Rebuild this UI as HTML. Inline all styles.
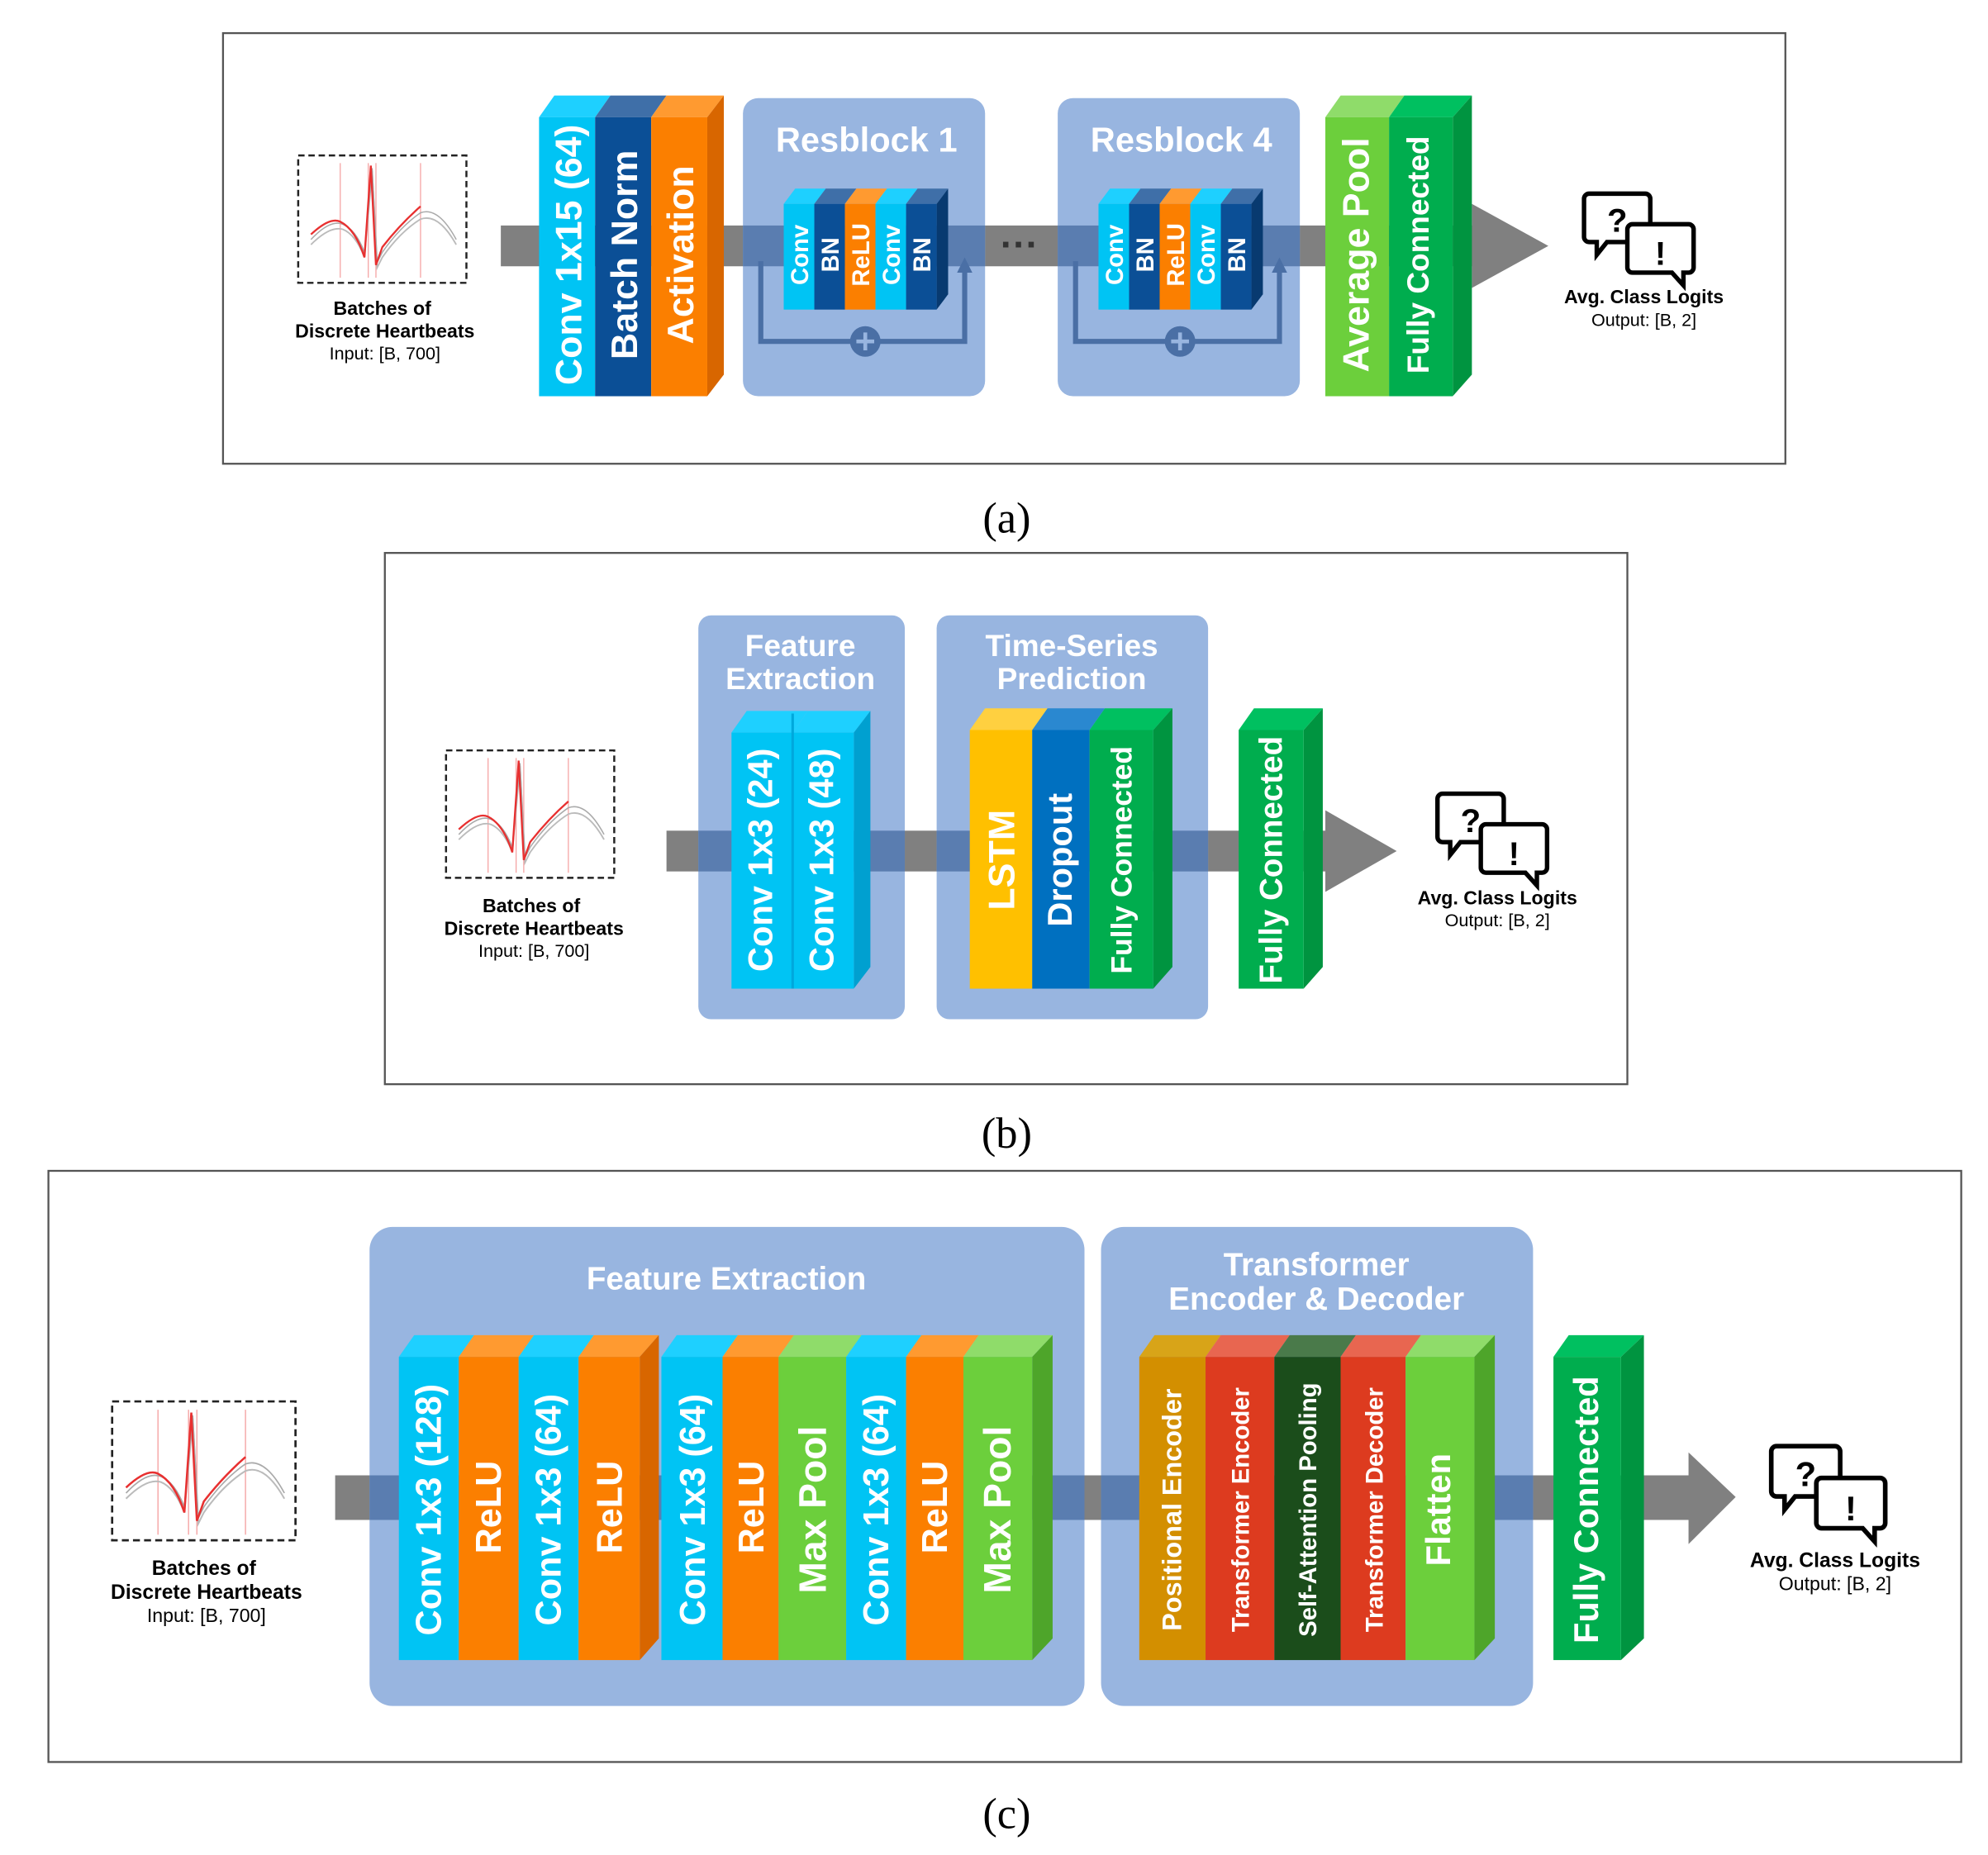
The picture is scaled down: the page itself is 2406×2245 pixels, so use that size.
<!DOCTYPE html>
<html><head><meta charset="utf-8"><style>
html,body{margin:0;padding:0;background:#fff}
svg{display:block}
text{font-family:"Liberation Sans",sans-serif}
.w{fill:#fff;font-weight:bold}
.k{fill:#000}
</style></head><body>
<svg width="2406" height="2245" viewBox="0 0 1560 1456" preserveAspectRatio="none" xmlns="http://www.w3.org/2000/svg">
<defs>
<g id="ecg">
<rect x="0" y="0" width="132" height="100" fill="#fff" stroke="#222" stroke-width="1.6" stroke-dasharray="5,3"/>
<g stroke="#f4a0a0" stroke-width="0.8"><line x1="33" y1="6" x2="33" y2="96"/><line x1="55" y1="6" x2="55" y2="96"/><line x1="61" y1="6" x2="61" y2="96"/><line x1="96" y1="6" x2="96" y2="96"/></g>
<path d="M10 70 Q25 55 35 58 Q45 62 52 80 L58 12 L62 88 L66 80 Q80 60 96 50 Q110 45 124 70" fill="none" stroke="#bbb" stroke-width="1.2"/>
<path d="M10 66 Q25 50 35 54 Q45 58 52 76 L58 10 L62 84 L66 76 Q80 56 96 45 Q110 40 124 66" fill="none" stroke="#aaa" stroke-width="1"/>
<path d="M10 62 Q25 48 33 52 Q45 58 52 80 L57 8 L61 86 L66 72 Q80 54 96 40" fill="none" stroke="#e83030" stroke-width="1.5"/>
</g>
<g id="bub">
<path d="M2 2 h44 a4 4 0 0 1 4 4 v30 a4 4 0 0 1 -4 4 h-30 l-8 10 v-10 h-6 a4 4 0 0 1 -4 -4 v-30 a4 4 0 0 1 4 -4z" fill="#fff" stroke="#000" stroke-width="3.5"/>
<text x="24" y="32" font-size="26" font-weight="bold" class="k" text-anchor="middle">?</text>
<path d="M36 26 h44 a4 4 0 0 1 4 4 v30 a4 4 0 0 1 -4 4 h-4 v10 l-9 -10 h-31 a4 4 0 0 1 -4 -4 v-30 a4 4 0 0 1 4 -4z" fill="#fff" stroke="#000" stroke-width="3.5"/>
<text x="58" y="58" font-size="26" font-weight="bold" class="k" text-anchor="middle">!</text>
</g>
</defs>

<!-- ================= (a) ================= -->
<rect x="175" y="26" width="1226" height="338" fill="#fff" stroke="#555" stroke-width="1.5"/>
<use href="#ecg" transform="translate(234,122)"/>
<text x="300" y="247" font-size="15" font-weight="bold" text-anchor="middle">Batches of</text>
<text x="302" y="265" font-size="15" font-weight="bold" text-anchor="middle">Discrete Heartbeats</text>
<text x="302" y="282" font-size="14" text-anchor="middle">Input: [B, 700]</text>
<rect x="393" y="177" width="770" height="32" fill="#808080"/>
<polygon points="1155,160 1215,193 1155,226" fill="#808080"/>
<rect x="583" y="77" width="190" height="234" rx="12" fill="#98b5e0"/>
<rect x="830" y="77" width="190" height="234" rx="12" fill="#98b5e0"/>
<rect x="583" y="177" width="190" height="32" fill="#5a7db0"/>
<rect x="830" y="177" width="190" height="32" fill="#5a7db0"/>
<text x="680" y="119" font-size="27" class="w" text-anchor="middle" font-weight="bold">Resblock 1</text>
<text x="927" y="119" font-size="27" class="w" text-anchor="middle">Resblock 4</text>
<text x="800" y="202" font-size="30" font-weight="bold" fill="#333" text-anchor="middle">···</text>
<!-- main blocks a -->
<polygon points="423,92 435,75 479,75 467,92" fill="#1ed0ff"/>
<polygon points="467,92 479,75 523,75 511,92" fill="#3f6fa8"/>
<polygon points="511,92 523,75 568,75 555,92" fill="#ff9a30"/>
<polygon points="555,92 568,75 568,294 555,311" fill="#d86600"/>
<rect x="423" y="92" width="44" height="219" fill="#00c4f4"/>
<rect x="467" y="92" width="44" height="219" fill="#0b4f96"/>
<rect x="511" y="92" width="44" height="219" fill="#fb7f00"/>
<text transform="translate(456,200) rotate(-90)" font-size="29" class="w" text-anchor="middle">Conv 1x15 (64)</text>
<text transform="translate(500,200) rotate(-90)" font-size="29" class="w" text-anchor="middle">Batch Norm</text>
<text transform="translate(544,200) rotate(-90)" font-size="29" class="w" text-anchor="middle">Activation</text>
<!-- res inner -->
<g id="res1">
<path d="M597 205 V268 H757 V212" fill="none" stroke="#4a6fa5" stroke-width="4"/>
<polygon points="751,214 757,202 763,214" fill="#4a6fa5"/>
<circle cx="679" cy="268" r="12" fill="#4a6fa5"/>
<path d="M672 268 h14 M679 261 v14" stroke="#98b5e0" stroke-width="3"/>
<polygon points="615,160 624,148 648,148 639,160" fill="#1ed0ff"/>
<polygon points="639,160 648,148 672,148 663,160" fill="#3f6fa8"/>
<polygon points="663,160 672,148 696,148 687,160" fill="#ff9a30"/>
<polygon points="687,160 696,148 720,148 711,160" fill="#1ed0ff"/>
<polygon points="711,160 720,148 744,148 735,160" fill="#3f6fa8"/>
<polygon points="735,160 744,148 744,231 735,243" fill="#083a70"/>
<rect x="615" y="160" width="24" height="83" fill="#00c4f4"/>
<rect x="639" y="160" width="24" height="83" fill="#0b4f96"/>
<rect x="663" y="160" width="24" height="83" fill="#fb7f00"/>
<rect x="687" y="160" width="24" height="83" fill="#00c4f4"/>
<rect x="711" y="160" width="24" height="83" fill="#0b4f96"/>
<text transform="translate(634,200) rotate(-90)" font-size="19" class="w" text-anchor="middle">Conv</text>
<text transform="translate(658,200) rotate(-90)" font-size="19" class="w" text-anchor="middle">BN</text>
<text transform="translate(682,200) rotate(-90)" font-size="19" class="w" text-anchor="middle">ReLU</text>
<text transform="translate(706,200) rotate(-90)" font-size="19" class="w" text-anchor="middle">Conv</text>
<text transform="translate(730,200) rotate(-90)" font-size="19" class="w" text-anchor="middle">BN</text>
</g>
<g transform="translate(247,0)">
<path d="M597 205 V268 H757 V212" fill="none" stroke="#4a6fa5" stroke-width="4"/>
<polygon points="751,214 757,202 763,214" fill="#4a6fa5"/>
<circle cx="679" cy="268" r="12" fill="#4a6fa5"/>
<path d="M672 268 h14 M679 261 v14" stroke="#98b5e0" stroke-width="3"/>
<polygon points="615,160 624,148 648,148 639,160" fill="#1ed0ff"/>
<polygon points="639,160 648,148 672,148 663,160" fill="#3f6fa8"/>
<polygon points="663,160 672,148 696,148 687,160" fill="#ff9a30"/>
<polygon points="687,160 696,148 720,148 711,160" fill="#1ed0ff"/>
<polygon points="711,160 720,148 744,148 735,160" fill="#3f6fa8"/>
<polygon points="735,160 744,148 744,231 735,243" fill="#083a70"/>
<rect x="615" y="160" width="24" height="83" fill="#00c4f4"/>
<rect x="639" y="160" width="24" height="83" fill="#0b4f96"/>
<rect x="663" y="160" width="24" height="83" fill="#fb7f00"/>
<rect x="687" y="160" width="24" height="83" fill="#00c4f4"/>
<rect x="711" y="160" width="24" height="83" fill="#0b4f96"/>
<text transform="translate(634,200) rotate(-90)" font-size="19" class="w" text-anchor="middle">Conv</text>
<text transform="translate(658,200) rotate(-90)" font-size="19" class="w" text-anchor="middle">BN</text>
<text transform="translate(682,200) rotate(-90)" font-size="19" class="w" text-anchor="middle">ReLU</text>
<text transform="translate(706,200) rotate(-90)" font-size="19" class="w" text-anchor="middle">Conv</text>
<text transform="translate(730,200) rotate(-90)" font-size="19" class="w" text-anchor="middle">BN</text>
</g>
<!-- pool/fc a -->
<polygon points="1040,92 1052,75 1102,75 1090,92" fill="#8fdc6a"/>
<polygon points="1090,92 1102,75 1155,75 1140,92" fill="#00c060"/>
<polygon points="1140,92 1155,75 1155,294 1140,311" fill="#009440"/>
<rect x="1040" y="92" width="50" height="219" fill="#6ccf3c"/>
<rect x="1090" y="92" width="50" height="219" fill="#00ad4e"/>
<text transform="translate(1074,200) rotate(-90)" font-size="29" class="w" text-anchor="middle">Average Pool</text>
<text transform="translate(1121,200) rotate(-90)" font-size="24" class="w" text-anchor="middle">Fully Connected</text>
<use href="#bub" transform="translate(1245,150)"/>
<text x="1290" y="238" font-size="15" font-weight="bold" text-anchor="middle">Avg. Class Logits</text>
<text x="1290" y="256" font-size="14" text-anchor="middle">Output: [B, 2]</text>
<text x="790" y="418" font-size="34" font-family="Liberation Serif" text-anchor="middle" style="font-family:'Liberation Serif',serif">(a)</text>

<!-- ================= (b) ================= -->
<rect x="302" y="434" width="975" height="417" fill="#fff" stroke="#555" stroke-width="1.5"/>
<use href="#ecg" transform="translate(350,589)"/>
<text x="417" y="716" font-size="15" font-weight="bold" text-anchor="middle">Batches of</text>
<text x="419" y="734" font-size="15" font-weight="bold" text-anchor="middle">Discrete Heartbeats</text>
<text x="419" y="751" font-size="14" text-anchor="middle">Input: [B, 700]</text>
<rect x="523" y="652" width="530" height="32" fill="#808080"/>
<polygon points="1040,636 1096,668 1040,700" fill="#808080"/>
<rect x="548" y="483" width="162" height="317" rx="10" fill="#98b5e0"/>
<rect x="735" y="483" width="213" height="317" rx="10" fill="#98b5e0"/>
<rect x="548" y="652" width="162" height="32" fill="#5a7db0"/>
<rect x="735" y="652" width="213" height="32" fill="#5a7db0"/>
<text x="628" y="515" font-size="24" class="w" text-anchor="middle">Feature</text>
<text x="628" y="541" font-size="24" class="w" text-anchor="middle">Extraction</text>
<text x="841" y="515" font-size="24" class="w" text-anchor="middle">Time-Series</text>
<text x="841" y="541" font-size="24" class="w" text-anchor="middle">Prediction</text>
<polygon points="574,575 586,558 634,558 622,575" fill="#1ed0ff"/>
<polygon points="622,575 634,558 683,558 670,575" fill="#1ed0ff"/>
<polygon points="670,575 683,558 683,759 670,776" fill="#00a0d0"/>
<rect x="574" y="575" width="48" height="201" fill="#00c4f4"/>
<rect x="622" y="575" width="48" height="201" fill="#00c4f4"/>
<line x1="622" y1="560" x2="622" y2="776" stroke="#00a8dc" stroke-width="2"/>
<text transform="translate(606,675) rotate(-90)" font-size="27" class="w" text-anchor="middle">Conv 1x3 (24)</text>
<text transform="translate(654,675) rotate(-90)" font-size="27" class="w" text-anchor="middle">Conv 1x3 (48)</text>
<polygon points="761,573 773,556 822,556 810,573" fill="#ffd040"/>
<polygon points="810,573 822,556 867,556 855,573" fill="#2a88d0"/>
<polygon points="855,573 867,556 920,556 905,573" fill="#00c060"/>
<polygon points="905,573 920,556 920,759 905,776" fill="#009440"/>
<rect x="761" y="573" width="49" height="203" fill="#ffc000"/>
<rect x="810" y="573" width="45" height="203" fill="#0070c0"/>
<rect x="855" y="573" width="50" height="203" fill="#00ad4e"/>
<text transform="translate(796,675) rotate(-90)" font-size="29" class="w" text-anchor="middle">LSTM</text>
<text transform="translate(841,675) rotate(-90)" font-size="27" class="w" text-anchor="middle">Dropout</text>
<text transform="translate(888,675) rotate(-90)" font-size="23" class="w" text-anchor="middle">Fully Connected</text>
<polygon points="972,573 984,556 1038,556 1023,573" fill="#00c060"/>
<polygon points="1023,573 1038,556 1038,759 1023,776" fill="#009440"/>
<rect x="972" y="573" width="51" height="203" fill="#00ad4e"/>
<text transform="translate(1006,675) rotate(-90)" font-size="25" class="w" text-anchor="middle">Fully Connected</text>
<use href="#bub" transform="translate(1130,621)"/>
<text x="1175" y="710" font-size="15" font-weight="bold" text-anchor="middle">Avg. Class Logits</text>
<text x="1175" y="727" font-size="14" text-anchor="middle">Output: [B, 2]</text>
<text x="790" y="901" font-size="34" text-anchor="middle" style="font-family:'Liberation Serif',serif">(b)</text>

<!-- ================= (c) ================= -->
<rect x="38" y="919" width="1501" height="464" fill="#fff" stroke="#555" stroke-width="1.5"/>
<use href="#ecg" transform="translate(88,1100) scale(1.09)"/>
<text x="160" y="1236" font-size="16" font-weight="bold" text-anchor="middle">Batches of</text>
<text x="162" y="1255" font-size="16" font-weight="bold" text-anchor="middle">Discrete Heartbeats</text>
<text x="162" y="1273" font-size="15" text-anchor="middle">Input: [B, 700]</text>
<rect x="263" y="1158" width="1075" height="35" fill="#808080"/>
<polygon points="1325,1140 1362,1175 1325,1212" fill="#808080"/>
<rect x="290" y="963" width="561" height="376" rx="18" fill="#98b5e0"/>
<rect x="864" y="963" width="339" height="376" rx="18" fill="#98b5e0"/>
<rect x="290" y="1158" width="561" height="35" fill="#5a7db0"/>
<rect x="864" y="1158" width="339" height="35" fill="#5a7db0"/>
<text x="570" y="1012" font-size="25" class="w" text-anchor="middle">Feature Extraction</text>
<text x="1033" y="1001" font-size="25" class="w" text-anchor="middle">Transformer</text>
<text x="1033" y="1028" font-size="25" class="w" text-anchor="middle">Encoder &amp; Decoder</text>
<!-- group 1 -->
<polygon points="313,1065 325,1048 372,1048 360,1065" fill="#1ed0ff"/>
<polygon points="360,1065 372,1048 419,1048 407,1065" fill="#ff9a30"/>
<polygon points="407,1065 419,1048 466,1048 454,1065" fill="#1ed0ff"/>
<polygon points="454,1065 466,1048 517,1048 502,1065" fill="#ff9a30"/>
<polygon points="502,1065 517,1048 517,1286 502,1303" fill="#d86600"/>
<rect x="313" y="1065" width="47" height="238" fill="#00c4f4"/>
<rect x="360" y="1065" width="47" height="238" fill="#fb7f00"/>
<rect x="407" y="1065" width="47" height="238" fill="#00c4f4"/>
<rect x="454" y="1065" width="48" height="238" fill="#fb7f00"/>
<text transform="translate(346,1185) rotate(-90)" font-size="28" class="w" text-anchor="middle">Conv 1x3 (128)</text>
<text transform="translate(393,1183) rotate(-90)" font-size="28" class="w" text-anchor="middle">ReLU</text>
<text transform="translate(440,1185) rotate(-90)" font-size="28" class="w" text-anchor="middle">Conv 1x3 (64)</text>
<text transform="translate(488,1183) rotate(-90)" font-size="28" class="w" text-anchor="middle">ReLU</text>
<!-- group 2 -->
<polygon points="519,1065 531,1048 579,1048 567,1065" fill="#1ed0ff"/>
<polygon points="567,1065 579,1048 623,1048 611,1065" fill="#ff9a30"/>
<polygon points="611,1065 623,1048 676,1048 664,1065" fill="#8fdc6a"/>
<polygon points="664,1065 676,1048 723,1048 711,1065" fill="#1ed0ff"/>
<polygon points="711,1065 723,1048 768,1048 756,1065" fill="#ff9a30"/>
<polygon points="756,1065 768,1048 826,1048 810,1065" fill="#8fdc6a"/>
<polygon points="810,1065 826,1048 826,1286 810,1303" fill="#4ea52a"/>
<rect x="519" y="1065" width="48" height="238" fill="#00c4f4"/>
<rect x="567" y="1065" width="44" height="238" fill="#fb7f00"/>
<rect x="611" y="1065" width="53" height="238" fill="#6ccf3c"/>
<rect x="664" y="1065" width="47" height="238" fill="#00c4f4"/>
<rect x="711" y="1065" width="45" height="238" fill="#fb7f00"/>
<rect x="756" y="1065" width="54" height="238" fill="#6ccf3c"/>
<text transform="translate(553,1185) rotate(-90)" font-size="28" class="w" text-anchor="middle">Conv 1x3 (64)</text>
<text transform="translate(599,1183) rotate(-90)" font-size="28" class="w" text-anchor="middle">ReLU</text>
<text transform="translate(648,1185) rotate(-90)" font-size="30" class="w" text-anchor="middle">Max Pool</text>
<text transform="translate(697,1185) rotate(-90)" font-size="28" class="w" text-anchor="middle">Conv 1x3 (64)</text>
<text transform="translate(743,1183) rotate(-90)" font-size="28" class="w" text-anchor="middle">ReLU</text>
<text transform="translate(793,1185) rotate(-90)" font-size="30" class="w" text-anchor="middle">Max Pool</text>
<!-- transformer -->
<polygon points="894,1065 906,1048 958,1048 946,1065" fill="#d8a418"/>
<polygon points="946,1065 958,1048 1012,1048 1000,1065" fill="#e86650"/>
<polygon points="1000,1065 1012,1048 1064,1048 1052,1065" fill="#4a7a4a"/>
<polygon points="1052,1065 1064,1048 1115,1048 1103,1065" fill="#e86650"/>
<polygon points="1103,1065 1115,1048 1173,1048 1157,1065" fill="#8fdc6a"/>
<polygon points="1157,1065 1173,1048 1173,1286 1157,1303" fill="#4ea52a"/>
<rect x="894" y="1065" width="52" height="238" fill="#d38f00"/>
<rect x="946" y="1065" width="54" height="238" fill="#dd3b1f"/>
<rect x="1000" y="1065" width="52" height="238" fill="#1b4d1b"/>
<rect x="1052" y="1065" width="51" height="238" fill="#dd3b1f"/>
<rect x="1103" y="1065" width="54" height="238" fill="#6ccf3c"/>
<text transform="translate(927,1185) rotate(-90)" font-size="21" class="w" text-anchor="middle">Positional Encoder</text>
<text transform="translate(980,1185) rotate(-90)" font-size="19" class="w" text-anchor="middle">Transformer Encoder</text>
<text transform="translate(1033,1185) rotate(-90)" font-size="19" class="w" text-anchor="middle">Self-Attention Pooling</text>
<text transform="translate(1085,1185) rotate(-90)" font-size="19" class="w" text-anchor="middle">Transformer Decoder</text>
<text transform="translate(1138,1185) rotate(-90)" font-size="27" class="w" text-anchor="middle">Flatten</text>
<polygon points="1219,1065 1231,1048 1290,1048 1272,1065" fill="#00c060"/>
<polygon points="1272,1065 1290,1048 1290,1286 1272,1303" fill="#009440"/>
<rect x="1219" y="1065" width="53" height="238" fill="#00ad4e"/>
<text transform="translate(1254,1185) rotate(-90)" font-size="27" class="w" text-anchor="middle">Fully Connected</text>
<use href="#bub" transform="translate(1392,1133) scale(1.04)"/>
<text x="1440" y="1230" font-size="16" font-weight="bold" text-anchor="middle">Avg. Class Logits</text>
<text x="1440" y="1248" font-size="15" text-anchor="middle">Output: [B, 2]</text>
<text x="790" y="1435" font-size="34" text-anchor="middle" style="font-family:'Liberation Serif',serif">(c)</text>
</svg>
</body></html>
